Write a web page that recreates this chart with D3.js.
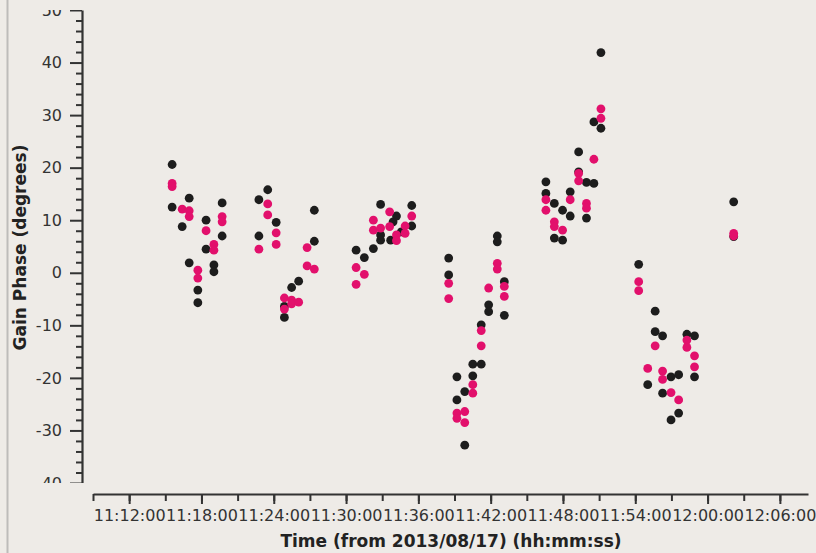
<!DOCTYPE html>
<html>
<head>
<meta charset="utf-8">
<script src="https://cdn.jsdelivr.net/npm/d3@7"></script>
<style>
  html, body { margin: 0; padding: 0; background: #eeebe7; }
  svg { display: block; font-family: "DejaVu Sans", sans-serif; }
</style>
</head>
<body>
<svg id="chart" width="816" height="553"></svg>
<script>
// Gain phase solutions per scan, two polarisations
const timeStart = "11:09:00";
const timeEnd = "12:08:20";
const phaseMin = -40;
const phaseMax = 50;
const majorPhaseTicks = [50, 40, 30, 20, 10, 0, -10, -20, -30, -40];

const blackPhase = [
  ["11:15:34", 20.6], ["11:15:34", 12.5],
  ["11:16:24", 8.8],
  ["11:16:59", 14.2], ["11:16:59", 1.9],
  ["11:17:42", -3.3], ["11:17:42", -5.7],
  ["11:18:23", 10.0], ["11:18:23", 4.5],
  ["11:19:02", 1.5], ["11:19:02", 0.2],
  ["11:19:43", 13.3], ["11:19:43", 7.0],
  ["11:22:46", 13.9], ["11:22:46", 7.0],
  ["11:23:30", 15.8],
  ["11:24:12", 9.6],
  ["11:24:53", -6.4], ["11:24:53", -8.5],
  ["11:25:29", -2.8],
  ["11:26:04", -1.6],
  ["11:27:22", 11.9], ["11:27:22", 6.0],
  ["11:30:50", 4.3],
  ["11:31:31", 2.9],
  ["11:32:16", 4.6],
  ["11:32:52", 13.0], ["11:32:52", 7.2], ["11:32:52", 6.2],
  ["11:33:42", 6.2], ["11:33:54", 9.7],
  ["11:34:11", 10.8], ["11:34:35", 7.8],
  ["11:35:27", 12.8], ["11:35:27", 8.9],
  ["11:38:31", 2.8], ["11:38:31", -0.4],
  ["11:39:12", -19.8], ["11:39:12", -24.2],
  ["11:39:51", -22.6], ["11:39:51", -32.8],
  ["11:40:31", -17.4], ["11:40:31", -19.6],
  ["11:41:13", -17.4], ["11:41:13", -9.9],
  ["11:41:50", -6.1], ["11:41:50", -7.4],
  ["11:42:33", 7.0], ["11:42:33", 5.9],
  ["11:43:08", -1.7], ["11:43:08", -8.1],
  ["11:46:35", 17.3], ["11:46:35", 15.1],
  ["11:47:17", 13.2], ["11:47:17", 6.6],
  ["11:47:58", 11.9], ["11:47:58", 6.2],
  ["11:48:36", 15.4], ["11:48:36", 10.8],
  ["11:49:18", 23.0], ["11:49:18", 19.2],
  ["11:49:57", 17.2], ["11:49:57", 10.4],
  ["11:50:34", 28.7], ["11:50:34", 17.0],
  ["11:51:09", 41.9], ["11:51:09", 27.5],
  ["11:54:17", 1.6],
  ["11:55:02", -21.3],
  ["11:55:39", -7.3], ["11:55:39", -11.2],
  ["11:56:16", -12.0], ["11:56:16", -22.9],
  ["11:56:58", -19.8], ["11:56:58", -28.0],
  ["11:57:36", -19.4], ["11:57:36", -26.7],
  ["11:58:17", -11.7],
  ["11:58:55", -12.0], ["11:58:55", -19.8],
  ["12:02:10", 13.5], ["12:02:10", 6.9]
];

const pinkPhase = [
  ["11:15:34", 17.0], ["11:15:34", 16.4],
  ["11:16:24", 12.1],
  ["11:16:59", 11.8], ["11:16:59", 10.7],
  ["11:17:42", 0.5], ["11:17:42", -1.0],
  ["11:18:23", 8.0],
  ["11:19:02", 5.4], ["11:19:02", 4.3],
  ["11:19:43", 10.7], ["11:19:43", 9.7],
  ["11:22:46", 4.5],
  ["11:23:30", 13.1], ["11:23:30", 11.0],
  ["11:24:12", 7.6], ["11:24:12", 5.4],
  ["11:24:53", -4.8], ["11:24:53", -6.9],
  ["11:25:29", -5.2], ["11:25:29", -5.9],
  ["11:26:04", -5.6],
  ["11:26:46", 4.8], ["11:26:46", 1.3],
  ["11:27:22", 0.7],
  ["11:30:50", 1.0], ["11:30:50", -2.2],
  ["11:31:31", -0.3],
  ["11:32:16", 10.0], ["11:32:16", 8.1],
  ["11:32:52", 8.5],
  ["11:33:37", 11.6], ["11:33:37", 8.8],
  ["11:34:11", 7.2], ["11:34:11", 6.1],
  ["11:34:54", 8.9], ["11:34:54", 7.5],
  ["11:35:27", 10.8],
  ["11:38:31", -2.0], ["11:38:31", -4.9],
  ["11:39:12", -26.7], ["11:39:12", -27.7],
  ["11:39:51", -26.4], ["11:39:51", -28.5],
  ["11:40:31", -21.3], ["11:40:31", -22.9],
  ["11:41:13", -11.0], ["11:41:13", -13.9],
  ["11:41:50", -2.9],
  ["11:42:33", 1.8], ["11:42:33", 0.7],
  ["11:43:08", -2.6], ["11:43:08", -4.5],
  ["11:46:35", 13.9], ["11:46:35", 11.9],
  ["11:47:17", 9.7], ["11:47:17", 8.8],
  ["11:47:58", 8.1],
  ["11:48:36", 13.9],
  ["11:49:18", 18.9], ["11:49:18", 17.5],
  ["11:49:57", 13.2], ["11:49:57", 12.3],
  ["11:50:34", 21.6],
  ["11:51:09", 31.2], ["11:51:09", 29.4],
  ["11:54:17", -1.7], ["11:54:17", -3.4],
  ["11:55:02", -18.2],
  ["11:55:39", -13.9],
  ["11:56:16", -18.7], ["11:56:16", -20.3],
  ["11:56:58", -22.8],
  ["11:57:36", -24.2],
  ["11:58:17", -12.8], ["11:58:17", -14.2],
  ["11:58:55", -15.8], ["11:58:55", -17.9],
  ["12:02:10", 7.5], ["12:02:10", 7.0]
];

const seriesColors = ["#1d1d1d", "#e2106c"];

const svg = d3.select("#chart");
const parseTime = d3.timeParse("%H:%M:%S");
const fmtTime = d3.timeFormat("%H:%M:%S");

const x = d3.scaleTime()
  .domain([parseTime(timeStart), parseTime(timeEnd)])
  .range([93, 808]);
const y = d3.scaleLinear()
  .domain([phaseMin, phaseMax])
  .range([483, 10]);

const axisColor = "#333";

// panel edge on the left
svg.append("line")
  .attr("x1", 7.5).attr("x2", 7.5).attr("y1", 0).attr("y2", 553)
  .attr("stroke", "#bdbcba").attr("stroke-width", 2);

// y axis, labels clipped to the axis extent
svg.append("clipPath").attr("id", "yclip")
  .append("rect").attr("x", 0).attr("y", 10).attr("width", 95).attr("height", 473);

const yAxisG = svg.append("g").attr("clip-path", "url(#yclip)");

const minorY = d3.range(phaseMin, phaseMax + 0.001, 2).filter(v => v % 10 !== 0);
yAxisG.append("g")
  .attr("transform", "translate(82,0)")
  .call(d3.axisLeft(y).tickValues(minorY).tickSize(6).tickFormat("").tickSizeOuter(0))
  .call(g => g.select(".domain").remove());

yAxisG.append("g")
  .attr("transform", "translate(82,0)")
  .call(d3.axisLeft(y).tickValues(majorPhaseTicks).tickSize(12).tickSizeOuter(0)
    .tickPadding(8).tickFormat(d => String(d)))
  .call(g => g.selectAll("text").attr("font-size", 16).attr("font-family", "DejaVu Sans").attr("fill", axisColor));

yAxisG.selectAll("line").attr("stroke", axisColor).attr("stroke-width", 2);
yAxisG.selectAll(".domain").attr("stroke", axisColor).attr("stroke-width", 2.2);

// x axis
const xAxisG = svg.append("g");
xAxisG.append("g")
  .attr("transform", "translate(0,494)")
  .call(d3.axisBottom(x).ticks(d3.timeMinute.every(3)).tickSize(7).tickFormat("").tickSizeOuter(0))
  .call(g => g.select(".domain").remove());
xAxisG.append("g")
  .attr("transform", "translate(0,494)")
  .call(d3.axisBottom(x).ticks(d3.timeMinute.every(6)).tickSize(10).tickSizeOuter(0)
    .tickPadding(6).tickFormat(fmtTime))
  .call(g => g.selectAll("text").attr("font-size", 16).attr("font-family", "DejaVu Sans").attr("fill", axisColor));
xAxisG.selectAll("line").attr("stroke", axisColor).attr("stroke-width", 2);
xAxisG.selectAll(".domain").attr("stroke", axisColor).attr("stroke-width", 2.2);

// axis titles
svg.append("text")
  .attr("x", 451).attr("y", 547)
  .attr("text-anchor", "middle")
  .attr("font-size", 17).attr("font-weight", "bold")
  .attr("fill", "#222")
  .text("Time (from 2013/08/17) (hh:mm:ss)");

svg.append("text")
  .attr("transform", "translate(25.5,247.5) rotate(-90)")
  .attr("text-anchor", "middle")
  .attr("font-size", 17).attr("font-weight", "bold")
  .attr("fill", "#222")
  .text("Gain Phase (degrees)");

// points
[blackPhase, pinkPhase].forEach((series, i) => {
  svg.append("g").selectAll("circle")
    .data(series)
    .join("circle")
    .attr("cx", d => x(parseTime(d[0])))
    .attr("cy", d => y(d[1]))
    .attr("r", 4.4)
    .attr("fill", seriesColors[i]);
});
</script>
</body>
</html>
